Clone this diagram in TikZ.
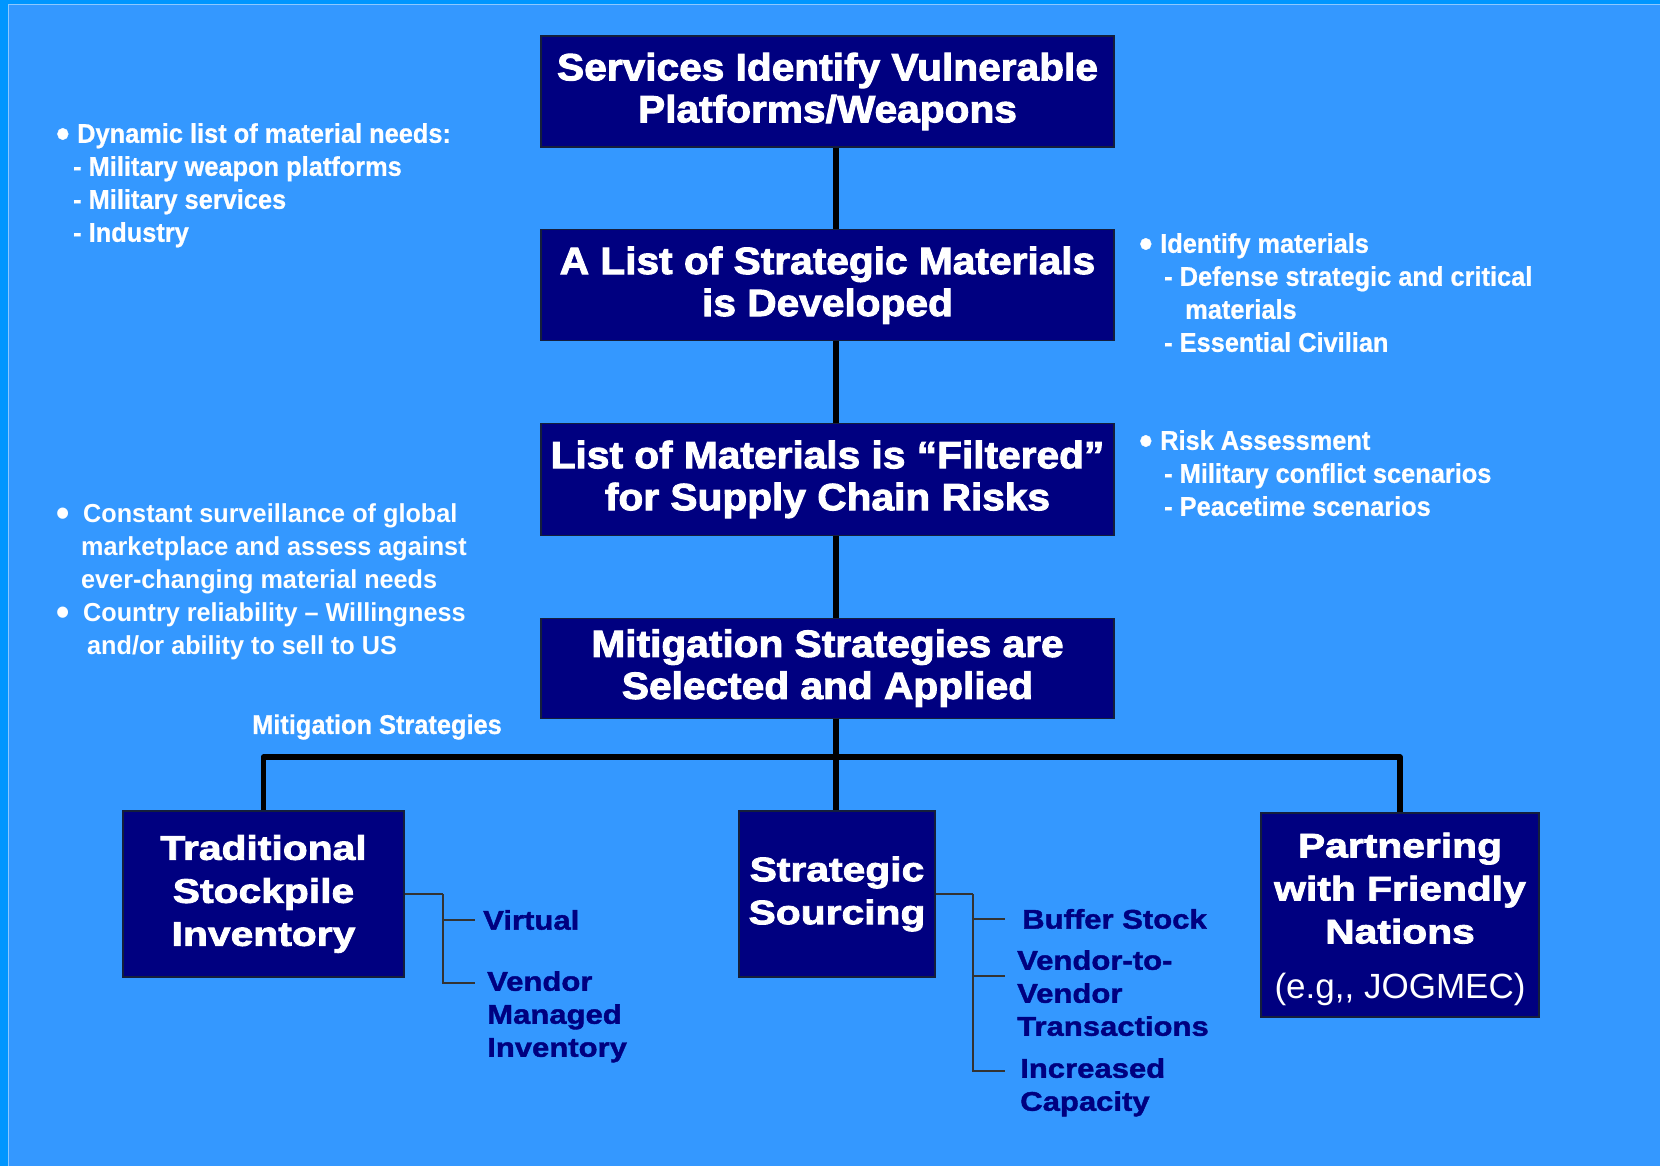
\documentclass[tikz,border=0pt]{standalone}
\usepackage{fontspec}
\setmainfont{Liberation Sans}
\newfontfamily\headfont{Liberation Sans}[FakeStretch=1.07,FakeBold=2.5]
\newfontfamily\wideheadfont{Liberation Sans}[FakeStretch=1.2,FakeBold=2.5]
\newfontfamily\subfont{Liberation Sans}[FakeStretch=1.15,FakeBold=1.5]
\newfontfamily\notefont{Liberation Sans}[FakeStretch=0.94,FakeBold=0.8]
\newfontfamily\plainnotefont{Liberation Sans}[FakeStretch=0.97]
\newfontfamily\plainfont{Liberation Sans}
\usepackage{tikz}
\usetikzlibrary{positioning, calc}
\definecolor{frameBlue}{RGB}{0, 150, 255}
\definecolor{bgBlue}{RGB}{52, 152, 255}
\definecolor{navyBox}{RGB}{0, 0, 128}
\definecolor{boxEdge}{RGB}{20, 30, 60}
\definecolor{edgeLight}{RGB}{140, 200, 255}
\newcommand{\blt}[1][16pt]{\makebox[#1][l]{\hspace*{-5pt}\raisebox{-0.17em}{\scalebox{1.5}{•}}}}
\tikzstyle{box} = [rectangle, draw=boxEdge, line width=1.2pt, fill=navyBox, text=white, align=center, inner sep=0pt]
\tikzstyle{headtext} = [font=\headfont\bfseries\fontsize{38}{42}\selectfont]
\tikzstyle{leaftext} = [font=\wideheadfont\bfseries\fontsize{34}{43}\selectfont]
\tikzstyle{mainline} = [line width=5.5pt, line join=round]
\tikzstyle{subline} = [line width=2.2pt, draw=black!80]
\tikzstyle{note} = [text=white, align=left, inner sep=0pt, font=\notefont\bfseries\fontsize{27}{33}\selectfont]
\tikzstyle{noteb} = [note, font=\plainnotefont\bfseries\fontsize{26}{33}\selectfont]
\tikzstyle{sublabel} = [text=navyBox, align=left, inner sep=0pt, font=\subfont\bfseries\fontsize{27}{33}\selectfont]

\begin{document}
\begin{tikzpicture}[x=1pt, y=-1pt, node distance=81.5pt]
\useasboundingbox (0,0) rectangle (1660,1166);
\fill [frameBlue] (0,0) rectangle (1660,1166);
\fill [bgBlue] (8,5) rectangle (1660,1166);
\draw [edgeLight, line width=1pt] (8,1166) -- (8,5) -- (1660,5);

% main column
\node (services) [box, headtext, minimum width=573pt, minimum height=111pt] at (827.5,91.5) {Services Identify Vulnerable\\Platforms/Weapons};
\node (listdev) [box, headtext, minimum width=573pt, minimum height=111pt, below=of services] {A List of Strategic Materials\\is Developed};
\node (filtered) [box, headtext, minimum width=573pt, minimum height=112pt, below=of listdev] {List of Materials is “Filtered”\\for Supply Chain Risks};
\node (mitig) [box, headtext, minimum width=573pt, minimum height=100pt, below=of filtered] {Mitigation Strategies are\\Selected and Applied};

\coordinate (spine) at (836,0);
\draw [mainline] (services.south -| spine) -- (listdev.north -| spine);
\draw [mainline] (listdev.south -| spine) -- (filtered.north -| spine);
\draw [mainline] (filtered.south -| spine) -- (mitig.north -| spine);

% the three strategies
\node (trad) [box, leaftext, minimum width=281pt, minimum height=166pt] at (263.5,894) {Traditional\\Stockpile\\Inventory};
\node (sourcing) [box, leaftext, minimum width=196pt, minimum height=166pt] at (837,894) {Strategic\\Sourcing};
\node (partner) [box, leaftext, minimum width=278pt, minimum height=204pt] at (1400,915) {\rule{0pt}{33pt}Partnering\\with Friendly\\Nations\\[12pt]{\plainfont\mdseries\fontsize{35}{40}\selectfont (e.g,, JOGMEC)}};

\coordinate (bar) at (0,757);
\draw [mainline] (trad.north) -- (trad.north |- bar) -- (partner.north |- bar) -- (partner.north);
\draw [mainline] (mitig.south -| spine) -- (sourcing.north -| spine);

% sub items
\coordinate (tradbus) at (443,894);
\node (virtual) [sublabel, anchor=west] at (483,920) {Virtual};
\coordinate (vmiTip) at (475,983);
\node (vmi) [sublabel, anchor=north west] at (487,971) {Vendor\\Managed\\Inventory};
\draw [subline] (trad.east) -- (tradbus);
\draw [subline, shorten >=8pt] (tradbus) |- (virtual.west);
\draw [subline] (tradbus) |- (vmiTip);

\coordinate (srcbus) at (973,894);
\node (buffer) [sublabel, anchor=west] at (1022,919) {Buffer Stock};
\coordinate (vtovTip) at (1005,976);
\node (vtov) [sublabel, anchor=north west] at (1017,950) {Vendor-to-\\Vendor\\Transactions};
\coordinate (capTip) at (1005,1071);
\node (capacity) [sublabel, anchor=north west] at (1020,1058) {Increased\\Capacity};
\draw [subline] (sourcing.east) -- (srcbus);
\draw [subline, shorten >=17pt] (srcbus) |- (buffer.west);
\draw [subline] (srcbus) |- (vtovTip);
\draw [subline] (srcbus) |- (capTip);

% side notes
\node (needs) [note, anchor=north west] at (61,123) {\blt Dynamic list of material needs:\\\hspace*{12pt}- Military weapon platforms\\\hspace*{12pt}- Military services\\\hspace*{12pt}- Industry};
\node (identify) [note, anchor=north west] at (1144,233) {\blt Identify materials\\\hspace*{20pt}- Defense strategic and critical\\\hspace*{41pt}materials\\\hspace*{20pt}- Essential Civilian};
\node (risk) [note, anchor=north west] at (1144,430) {\blt Risk Assessment\\\hspace*{20pt}- Military conflict scenarios\\\hspace*{20pt}- Peacetime scenarios};
\node (surveil) [noteb, anchor=north west] at (61,503) {\blt[22pt]Constant surveillance of global\\\hspace*{20pt}marketplace and assess against\\\hspace*{20pt}ever-changing material needs\\\blt[22pt]Country reliability – Willingness\\\hspace*{26pt}and/or ability to sell to US};
\node (mitlabel) [note, anchor=west] at (252,727) {Mitigation Strategies};

\end{tikzpicture}
\end{document}
